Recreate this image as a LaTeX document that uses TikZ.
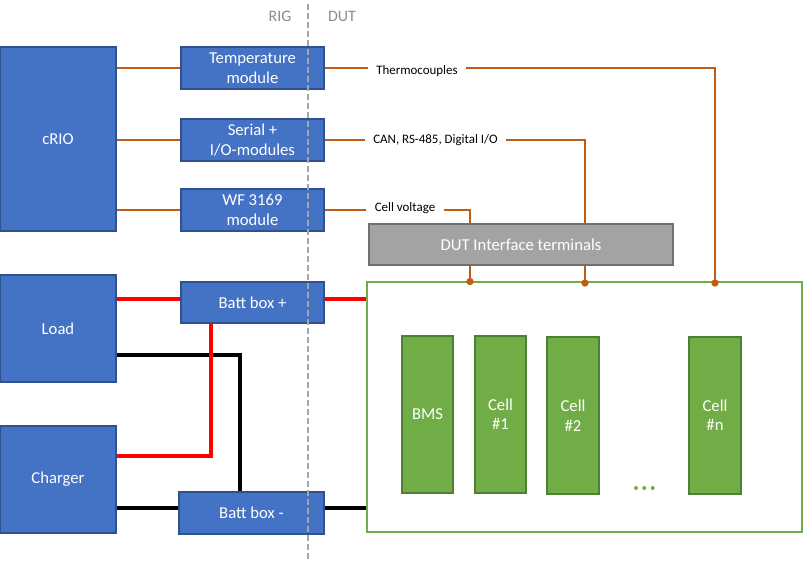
\documentclass[tikz,border=0pt]{standalone}
\usepackage{fontspec}
\setmainfont{Carlito}
\usetikzlibrary{calc}
\definecolor{bfill}{HTML}{4472C4}
\definecolor{bdraw}{HTML}{2F528F}
\definecolor{gfill}{HTML}{70AD47}
\definecolor{gdraw}{HTML}{507E32}
\definecolor{org}{HTML}{C55A11}
\definecolor{tfill}{HTML}{A3A3A3}
\definecolor{tdraw}{HTML}{707070}
\definecolor{lgray}{HTML}{A6A6A6}
\definecolor{hgray}{HTML}{8C8C8C}
\begin{document}
\begin{tikzpicture}[x=0.75pt,y=-0.75pt,
  bluebox/.style={draw=bdraw, fill=bfill, line width=1.5pt, text=white, align=center, inner sep=0pt,
    font=\fontsize{12.5}{14.6}\selectfont},
  cellbox/.style={draw=gdraw, fill=gfill, line width=1.5pt, text=white, align=center, inner sep=0pt,
    minimum width=38.5pt, minimum height=117.75pt, font=\fontsize{12.5}{14.6}\selectfont},
  modbox/.style={bluebox, minimum width=107.25pt, minimum height=31.5pt},
  sig/.style={draw=org, line width=0.9pt},
  lbl/.style={font=\fontsize{9.7}{11}\selectfont, inner sep=6pt},
  redw/.style={draw=red, line width=3pt},
  blkw/.style={draw=black, line width=3pt},
  odot/.style={circle, fill=org, inner sep=0pt, minimum size=5.5pt},
  gdot/.style={circle, fill=gfill, inner sep=0pt, minimum size=3pt},
  hdr/.style={text=hgray, font=\fontsize{12}{14}\selectfont, inner sep=0pt}
]
\useasboundingbox (0,0) rectangle (804,561);

% left side boxes
\node[bluebox, minimum width=87pt, minimum height=138pt] (crio) at (58,139) {cRIO};
\node[bluebox, minimum width=87pt, minimum height=80.25pt] (load) at (58,328.5) {Load};
\node[bluebox, minimum width=87pt, minimum height=80.25pt] (charger) at (58,479.5) {Charger};

\node[modbox] (temp) at (252.5,68) {Temperature\\module};
\node[modbox] (serial) at (252.5,140) {Serial +\\I/O-modules};
\node[modbox] (wf) at (252.5,210) {WF 3169\\module};
\node[modbox, minimum height=30.75pt] (batp) at (252.5,302.5) {Batt box +};
\node[modbox, minimum width=108.75pt] (batm) at (251.5,513) {Batt box -};

% DUT
\node[draw=gfill, line width=1.5pt, minimum width=326.25pt, minimum height=187.5pt, inner sep=0pt] (dut) at (584.5,407) {};
\node[draw=tdraw, fill=tfill, line width=1.5pt, minimum width=228pt, minimum height=30.75pt, inner sep=0pt,
  text=white, font=\fontsize{12.5}{14.6}\selectfont] (term) at (521,244.5) {DUT Interface terminals};

\node[cellbox] (bms) at (427.5,414.5) {BMS};
\node[cellbox] (c1) at (500.5,414) {Cell\\\#1};
\node[cellbox, minimum width=39pt] (c2) at (573,415.5) {Cell\\\#2};
\node[cellbox, minimum width=39pt] (cn) at (715,415) {Cell\\\#n};
\node[gdot] (e1) at (636,488) {};
\node[gdot] (e2) at (644.3,488) {};
\node[gdot] (e3) at (652.7,488) {};

% signal labels
\node[lbl] (therm) at (417,71) {Thermocouples};
\node[lbl] (can) at (435.5,140) {CAN, RS-485, Digital I/O};
\node[lbl] (cv) at (405,208) {Cell voltage};

% dots on DUT border
\node[odot] (d1) at (470,281.5) {};
\node[odot] (d2) at (585,283) {};
\node[odot] (d3) at (715,283) {};

% signal lines
\draw[sig] (temp.west -| crio.east) -- (temp.west);
\draw[sig] (serial.west -| crio.east) -- (serial.west);
\draw[sig] (wf.west -| crio.east) -- (wf.west);
\draw[sig] (temp.east) -- (temp.east -| therm.west);
\draw[sig] (serial.east) -- (serial.east -| can.west);
\draw[sig] (wf.east) -- (wf.east -| cv.west);
\draw[sig] (therm.east |- temp.east) -| (d3.center);
\draw[sig] (can.east |- serial.east) -| (d2 |- term.north);
\draw[sig] (d2 |- term.south) -- (d2.center);
\draw[sig] (cv.east |- wf.east) -| (d1 |- term.north);
\draw[sig] (d1 |- term.south) -- (d1.center);

% power lines
\draw[blkw] ([yshift=-19.9pt]load.east) -| ([xshift=-8.6pt]batm.north);
\draw[blkw] ([yshift=-21.4pt]charger.east) -- ([yshift=-21.4pt]charger.east -| batm.west);
\draw[blkw] ([yshift=-21.4pt]charger.east -| batm.east) -- ([yshift=-21.4pt]charger.east -| dut.west);
\draw[redw] ([yshift=3pt]batp.west -| load.east) -- ([yshift=3pt]batp.west);
\draw[redw] ([yshift=3pt]batp.east) -- ([yshift=3pt]batp.east -| dut.west);
\draw[redw] ([xshift=-31.1pt]batp.south) |- ([yshift=17.6pt]charger.east);

% divider
\coordinate (dtop) at (308,4);
\coordinate (dbot) at (308,561);
\draw[lgray, line width=1.5pt, dash pattern=on 4.5pt off 2.25pt] (dtop) -- (dbot);
\node[hdr] (rig) at (280,16) {RIG};
\node[hdr] (dutl) at (342,16) {DUT};
\end{tikzpicture}
\end{document}
